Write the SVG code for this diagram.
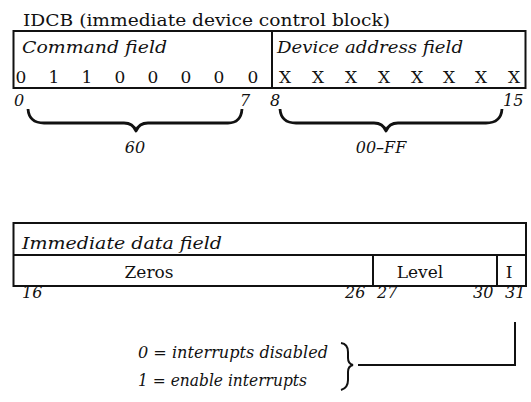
<svg xmlns="http://www.w3.org/2000/svg" width="531" height="402" viewBox="0 0 531 402">
<style>
text{font-family:"DejaVu Serif","Liberation Serif",serif;fill:#111}
.t{font-size:17px}
.i{font-size:16px;font-style:italic}
.d{font-size:17px;text-anchor:middle}
.n{font-size:16px;font-style:italic}
.m{text-anchor:middle}
.box{fill:#fff;stroke:#111;stroke-width:2}
.ln{stroke:#111;stroke-width:2;fill:none}
.br{stroke:#111;stroke-width:2.8;fill:none;stroke-linejoin:round}
</style>
<rect width="531" height="402" fill="#fff"/>
<text class="t" x="23" y="26" textLength="367" lengthAdjust="spacingAndGlyphs">IDCB (immediate device control block)</text>
<g id="idcb-top">
<rect class="box" x="13.5" y="31" width="512" height="57"/>
<line class="ln" x1="272" y1="31" x2="272" y2="88"/>
<text class="i" x="22" y="53" textLength="145" lengthAdjust="spacingAndGlyphs">Command field</text>
<text class="i" x="277" y="53" textLength="186" lengthAdjust="spacingAndGlyphs">Device address field</text>
<g>
<text class="d" x="21" y="83">0</text><text class="d" x="54" y="83">1</text><text class="d" x="87" y="83">1</text><text class="d" x="120" y="83">0</text><text class="d" x="153" y="83">0</text><text class="d" x="186" y="83">0</text><text class="d" x="219" y="83">0</text><text class="d" x="253" y="83">0</text>
<text class="d" x="285" y="83">X</text><text class="d" x="318" y="83">X</text><text class="d" x="351" y="83">X</text><text class="d" x="384" y="83">X</text><text class="d" x="417" y="83">X</text><text class="d" x="449" y="83">X</text><text class="d" x="481" y="83">X</text><text class="d" x="514" y="83">X</text>
</g>
<text class="n" x="14" y="106">0</text>
<text class="n" x="240" y="106">7</text>
<text class="n" x="270" y="106">8</text>
<text class="n" x="503" y="106">15</text>
</g>
<g id="braces">
<path class="br" d="M28,109 Q29,123 44,123 L124,123 Q133,123 136,131 Q139,123 148,123 L228,123 Q241,123 242,109"/>
<path class="br" d="M280,109 Q281,123 296,123 L374,123 Q383,123 386,131 Q389,123 398,123 L486,123 Q501,123 502,109"/>
<text class="n m" x="135" y="153">60</text>
<text class="n m" x="381" y="153">00–FF</text>
</g>
<g id="immediate">
<rect class="box" x="13.5" y="223" width="512.5" height="63"/>
<line class="ln" x1="13.5" y1="255" x2="526" y2="255"/>
<line class="ln" x1="373" y1="255" x2="373" y2="286"/>
<line class="ln" x1="497" y1="255" x2="497" y2="286"/>
<text class="i" x="22" y="249" textLength="200" lengthAdjust="spacingAndGlyphs">Immediate data field</text>
<text class="t m" x="149" y="278">Zeros</text>
<text class="t m" x="420" y="278">Level</text>
<text class="t m" x="509" y="278">I</text>
<text class="n" x="22" y="298">16</text>
<text class="n" x="345" y="298">26</text>
<text class="n" x="377" y="298">27</text>
<text class="n" x="473" y="298">30</text>
<text class="n" x="505" y="298">31</text>
</g>
<g id="connectors">
<path class="ln" d="M515,322 L515,365 L358,365"/>
<path class="ln" d="M341,343 Q348,344 348,352 L348,358 Q348,364 353,365 Q348,366 348,372 L348,380 Q348,388 341,390" stroke-width="1.8"/>
</g>
<g id="legend">
<text class="n" x="138" y="358" textLength="190" lengthAdjust="spacingAndGlyphs">0 = interrupts disabled</text>
<text class="n" x="138" y="386" textLength="169" lengthAdjust="spacingAndGlyphs">1 = enable interrupts</text>
</g>
</svg>
